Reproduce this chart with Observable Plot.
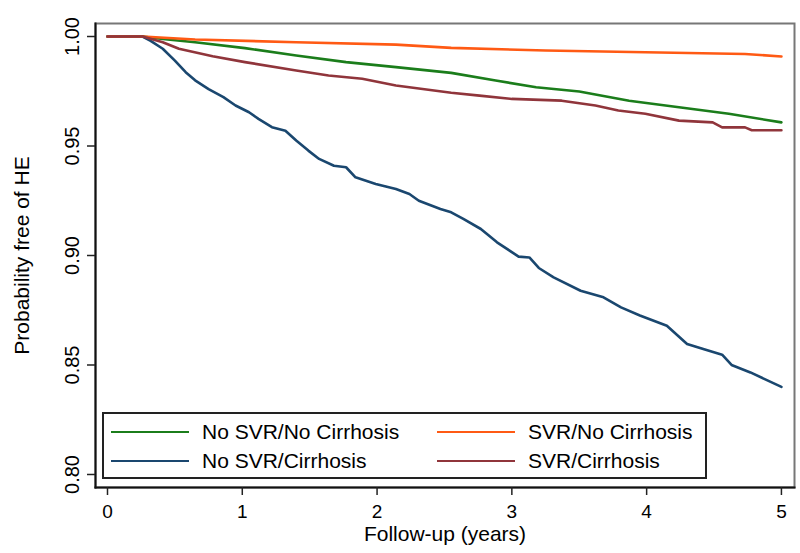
<!DOCTYPE html>
<html><head><meta charset="utf-8">
<script src="https://cdn.jsdelivr.net/npm/d3@7"></script>
<script src="https://cdn.jsdelivr.net/npm/@observablehq/plot@0.6"></script>
<style>
body{margin:0;background:#fff;font-family:"Liberation Sans",Arial,sans-serif;}
#wrap{position:relative;width:800px;height:553px;}
#legend{position:absolute;left:102px;top:412px;width:601px;height:63px;border:2px solid #222;background:#fff;}
.sw{position:absolute;width:78px;height:2px;}
.lt{position:absolute;font-size:21px;line-height:24px;color:#000;white-space:nowrap;}
</style></head>
<body><div id="wrap"></div>
<script>
// Categories (series) and colours
const seriesNames = ["No SVR/No Cirrhosis", "No SVR/Cirrhosis", "SVR/No Cirrhosis", "SVR/Cirrhosis"];
const seriesColors = ["#1b7d1b", "#1a476f", "#ff5a14", "#90353b"];

// Follow-up times (years) and probability free of HE
const noSvrNoCirT = [0,0.26,0.41,0.65,1.02,1.40,1.77,2.14,2.55,2.88,3.18,3.50,3.87,4.24,4.61,5.0];
const noSvrNoCirS = [1,1,0.9989,0.9974,0.9947,0.9913,0.9883,0.986,0.9834,0.9799,0.9768,0.9749,0.9707,0.9677,0.9647,0.9608];

const noSvrCirT = [0,0.26,0.32,0.41,0.50,0.58,0.65,0.75,0.86,0.95,1.05,1.12,1.22,1.32,1.40,1.49,1.57,1.68,1.77,1.84,1.99,2.14,2.24,2.31,2.47,2.55,2.64,2.77,2.89,3.05,3.13,3.20,3.31,3.51,3.68,3.81,3.95,4.15,4.30,4.42,4.56,4.63,4.77,5.0];
const noSvrCirS = [1,1,0.998,0.9944,0.989,0.9837,0.980,0.976,0.9723,0.9685,0.9654,0.9624,0.9586,0.957,0.9525,0.9479,0.9441,0.941,0.9403,0.9357,0.9327,0.9304,0.9281,0.925,0.9212,0.9197,0.9167,0.9121,0.906,0.8995,0.8991,0.8943,0.890,0.8839,0.8809,0.8763,0.8726,0.8679,0.8596,0.8573,0.8547,0.850,0.8466,0.840];

const svrNoCirT = [0,0.26,0.65,1.40,2.14,2.55,3.25,3.99,4.73,5.0];
const svrNoCirS = [1,1,0.9986,0.9974,0.9963,0.9948,0.9936,0.9928,0.992,0.9909];

const svrCirT = [0,0.26,0.41,0.53,0.78,1.02,1.40,1.64,1.89,2.14,2.55,2.76,3.0,3.37,3.62,3.79,3.99,4.24,4.49,4.56,4.73,4.78,5.0];
const svrCirS = [1,1,0.9974,0.9944,0.991,0.9883,0.9845,0.9822,0.9807,0.9776,0.9743,0.973,0.9715,0.9707,0.9685,0.9662,0.9647,0.9616,0.9608,0.9585,0.9585,0.9572,0.9572];

// Tick labels
const xTicks = [0,1,2,3,4,5];
const yTicks = [0.80,0.85,0.90,0.95,1.00];

const build = (ts, ss, name) => ts.map((t, i) => ({t, s: ss[i], series: name}));
const seriesData = [
  build(noSvrNoCirT, noSvrNoCirS, seriesNames[0]),
  build(noSvrCirT, noSvrCirS, seriesNames[1]),
  build(svrNoCirT, svrNoCirS, seriesNames[2]),
  build(svrCirT, svrCirS, seriesNames[3])
];

const chart = Plot.plot({
  width: 800, height: 553,
  marginLeft: 95, marginTop: 23, marginRight: 6, marginBottom: 66,
  x: {domain: [-0.089, 5.097], label: null},
  y: {domain: [0.79406, 1.00594], label: null},
  style: {fontFamily: "Liberation Sans, Arial, sans-serif", fontSize: "20px", background: "#fff", color: "#000"},
  marks: [
    Plot.frame({stroke: "#777", strokeWidth: 2}),
    Plot.frame({anchor: "left", stroke: "#111", strokeWidth: 2}),
    Plot.frame({anchor: "bottom", stroke: "#111", strokeWidth: 2}),
    Plot.axisX({ticks: xTicks, tickSize: 8, tickFormat: () => "", stroke: "#222", strokeWidth: 1.5}),
    Plot.axisY({ticks: yTicks, tickSize: 8, tickFormat: () => "", stroke: "#222", strokeWidth: 1.5}),
    Plot.text(xTicks, {x: d => d, frameAnchor: "bottom", dy: 17, lineAnchor: "top", text: d => String(d), fontSize: 19, fill: "#000"}),
    Plot.text(yTicks, {y: d => d, frameAnchor: "left", dx: -17, rotate: -90, lineAnchor: "bottom", textAnchor: "middle", text: d => d.toFixed(2), fontSize: 20, fill: "#000"}),
    Plot.text(["Follow-up (years)"], {frameAnchor: "bottom", dy: 39, lineAnchor: "top", text: d => d, fontSize: 21, fill: "#000"}),
    Plot.text(["Probability free of HE"], {frameAnchor: "left", dx: -67, rotate: -90, lineAnchor: "bottom", textAnchor: "middle", text: d => d, fontSize: 21, fill: "#000"}),
    ...seriesData.map((d, i) => Plot.line(d, {x: "t", y: "s", stroke: seriesColors[i], strokeWidth: 2.6, strokeLinejoin: "round"}))
  ]
});
document.getElementById("wrap").appendChild(chart);

// Legend inside the plot area
const legend = document.createElement("div");
legend.id = "legend";
const pos = [
  {lx: 7, tx: 98, cy: 18},
  {lx: 7, tx: 98, cy: 47},
  {lx: 333, tx: 424, cy: 18},
  {lx: 333, tx: 424, cy: 47}
];
seriesNames.forEach((name, i) => {
  const p = pos[i];
  const sw = document.createElement("div");
  sw.className = "sw";
  sw.style.left = p.lx + "px";
  sw.style.top = (p.cy - 1) + "px";
  sw.style.background = seriesColors[i];
  legend.appendChild(sw);
  const t = document.createElement("div");
  t.className = "lt";
  t.style.left = p.tx + "px";
  t.style.top = (p.cy - 12) + "px";
  t.textContent = name;
  legend.appendChild(t);
});
document.getElementById("wrap").appendChild(legend);
</script>
</body></html>
